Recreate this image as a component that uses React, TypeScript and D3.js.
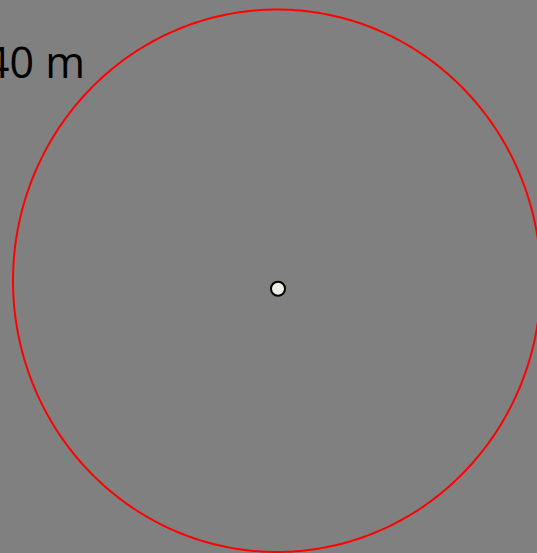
import React from "react";
import * as d3 from "d3";

const radiusMeters = [40];
const radiusLabels = ["40 m"];
const centerPoint = [{ x: 0, y: 0 }];

const W = 537;
const H = 553;

export default function App() {
  // metres -> pixels (slightly different scale on each axis, as in reference)
  const sx = d3.scaleLinear().domain([-40, 40]).range([13, 541]);
  const sy = d3.scaleLinear().domain([40, -40]).range([9.5, 552]);
  const cx = sx(centerPoint[0].x);
  const cy = sy(centerPoint[0].y);
  const r = radiusMeters[0];
  const ellipsePath = d3.line<[number, number]>()
    .x((d) => d[0])
    .y((d) => d[1])
    .curve(d3.curveLinearClosed)(
      d3.range(0, 360, 1).map((a) => {
        const t = (a * Math.PI) / 180;
        return [sx(r * Math.cos(t)), sy(r * Math.sin(t))] as [number, number];
      })
    );
  return (
    <svg
      width={W}
      height={H}
      style={{ position: "fixed", left: 0, top: 0, display: "block" }}
    >
      <rect x={0} y={0} width={W} height={H} fill="#808080" />
      <path d={ellipsePath || ""} fill="none" stroke="#ff0000" strokeWidth={2} />
      <circle
        cx={cx + 1}
        cy={cy + 8}
        r={7}
        fill="#f0eee4"
        stroke="#000"
        strokeWidth={2}
      />
      <text
        x={85}
        y={78}
        textAnchor="end"
        fontFamily="'Open Sans'"
        fontSize={43}
        fill="#000"
      >
        {radiusLabels[0]}
      </text>
    </svg>
  );
}
